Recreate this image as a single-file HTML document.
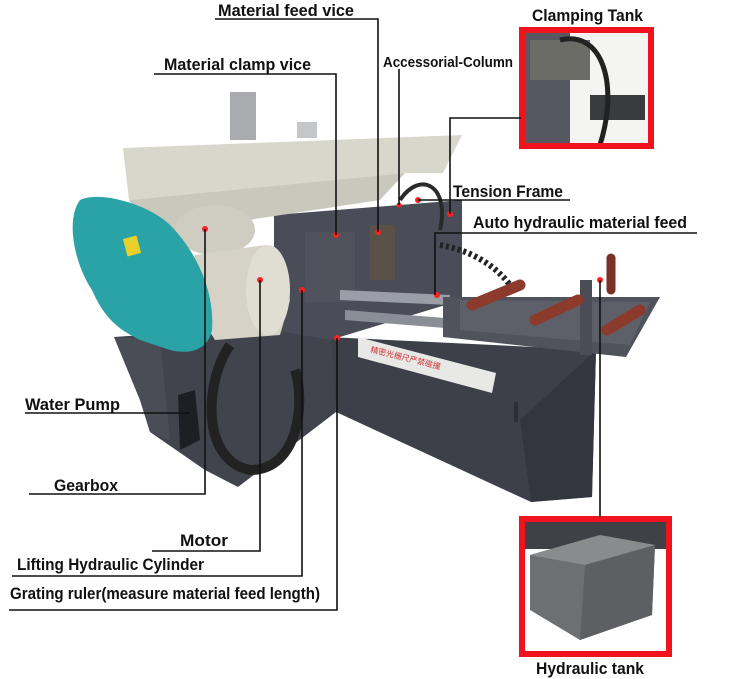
<!DOCTYPE html>
<html><head><meta charset="utf-8"><style>
html,body{margin:0;padding:0;background:#fff}
svg{display:block}
text{font-family:"Liberation Sans",sans-serif;font-weight:bold;fill:#111}
</style></head><body>
<svg width="750" height="679" viewBox="0 0 750 679" xmlns="http://www.w3.org/2000/svg">
<!-- right base -->
<polygon points="328,337 596,350 592,497 531,502 336,412" fill="#3d4049"/>
<polygon points="520,420 596,350 592,497 531,502" fill="#33363e"/>
<!-- left base -->
<polygon points="114,337 330,322 336,412 238,487 205,470 150,432 140,400" fill="#41444d"/>
<polygon points="114,337 160,340 170,440 150,432 140,400" fill="#4a4d56"/>
<polygon points="178,395 195,390 200,440 180,450" fill="#1e1f24"/>
<!-- hose coil -->
<path d="M230,345 C205,380 200,460 250,470 C300,470 305,400 295,370" stroke="#222" stroke-width="10" fill="none"/>
<!-- upper middle frame -->
<polygon points="274,215 462,200 462,300 330,340 274,330" fill="#4a4d57"/>
<rect x="305" y="232" width="50" height="70" fill="#50535c"/>
<rect x="370" y="225" width="25" height="55" fill="#5a5148"/>
<path d="M400,200 C420,170 450,185 440,230" stroke="#2a2a2a" stroke-width="4" fill="none"/>
<!-- rails -->
<polygon points="340,290 450,295 450,305 340,300" fill="#9a9ea6"/>
<polygon points="345,310 470,320 470,330 345,320" fill="#8a8e96"/>
<!-- sign strip -->
<polygon points="358,337 496,373 492,393 358,357" fill="#e8e8e6"/>
<text x="370" y="352" font-size="8" style="fill:#c33;font-weight:normal" transform="rotate(14 370 352)">精密光栅尺严禁碰撞</text>
<!-- right table -->
<polygon points="443,297 660,297 626,357 443,337" fill="#50535c"/>
<polygon points="460,300 650,302 630,345 460,330" fill="#5d6069"/>
<rect x="580" y="280" width="12" height="75" fill="#4a4d56"/>
<!-- cable chain -->
<path d="M440,245 C470,250 495,265 510,285" stroke="#222" stroke-width="6" fill="none" stroke-dasharray="3 3"/>
<!-- rollers -->
<line x1="472" y1="305" x2="520" y2="285" stroke="#8c3a2c" stroke-width="11" stroke-linecap="round"/>
<line x1="535" y1="320" x2="578" y2="300" stroke="#8c3a2c" stroke-width="11" stroke-linecap="round"/>
<line x1="607" y1="330" x2="640" y2="310" stroke="#8c3a2c" stroke-width="11" stroke-linecap="round"/>
<line x1="611" y1="258" x2="611" y2="290" stroke="#7a3024" stroke-width="9" stroke-linecap="round"/>
<!-- beige arm -->
<polygon points="123,148 462,135 443,173 405,173 129,200" fill="#d8d7cc"/>
<polygon points="129,200 405,173 380,200 150,235" fill="#c9c8bd"/>
<rect x="230" y="92" width="26" height="48" fill="#a9abae"/>
<rect x="297" y="122" width="20" height="16" fill="#c5c6c8"/>
<!-- gearbox area -->
<ellipse cx="215" cy="230" rx="40" ry="25" fill="#cfcdc2"/>
<!-- motor -->
<polygon points="195,255 265,245 290,300 280,335 215,340 190,300" fill="#d6d3c6"/>
<ellipse cx="268" cy="290" rx="22" ry="45" fill="#e0ddd2"/>
<!-- teal guard -->
<path d="M80,200 C100,190 150,205 170,225 C195,250 215,290 212,330 C208,350 190,355 170,350 L140,340 C120,330 105,320 92,290 C75,265 65,220 80,200 Z" fill="#2aa3a6"/>
<rect x="125" y="237" width="14" height="18" fill="#e8d12c" transform="rotate(-15 132 246)"/>
<path d="M516,402 l0,20" stroke="#2c2e34" stroke-width="4"/>

<!-- red dots -->
<g fill="#ff2020">
<circle cx="205" cy="229" r="3"/><circle cx="260" cy="280" r="3"/><circle cx="302" cy="290" r="3"/>
<circle cx="336" cy="235" r="3"/><circle cx="378" cy="232" r="3"/><circle cx="399" cy="205" r="2.5"/>
<circle cx="418" cy="200" r="3"/><circle cx="450" cy="214" r="3"/><circle cx="437" cy="295" r="3"/>
<circle cx="600" cy="280" r="3"/><circle cx="337" cy="338" r="3"/>
</g>

<!-- Clamping tank inset -->
<rect x="522" y="30" width="129" height="116" fill="#f4f4f2"/>
<rect x="525" y="33" width="45" height="110" fill="#55585e"/>
<rect x="530" y="40" width="60" height="40" fill="#6b6c66"/>
<rect x="590" y="95" width="55" height="25" fill="#3a3b3e"/>
<path d="M560,40 C600,30 620,80 600,145" stroke="#222" stroke-width="5" fill="none"/>
<rect x="522" y="30" width="129" height="116" fill="none" stroke="#f0121c" stroke-width="6"/>
<!-- Hydraulic tank inset -->
<rect x="522" y="519" width="147" height="135" fill="#fff"/>
<rect x="522" y="519" width="147" height="30" fill="#3f4146"/>
<polygon points="530,555 600,535 655,545 652,615 580,640 530,610" fill="#6e6f71"/>
<polygon points="530,555 600,535 655,545 585,565" fill="#8a8b8d"/>
<polygon points="585,565 655,545 652,615 580,640" fill="#5e5f62"/>
<rect x="522" y="519" width="147" height="135" fill="none" stroke="#f0121c" stroke-width="6"/>

<!-- leader lines -->
<g stroke="#111" stroke-width="1.6" fill="none">
<polyline points="215,19 378,19 378,232"/>
<polyline points="154,74 336,74 336,235"/>
<polyline points="399,69 399,205"/>
<polyline points="521,118 450,118 450,214"/>
<polyline points="418,200 570,200"/>
<polyline points="697,233 435,233 435,295"/>
<polyline points="25,413 190,413"/>
<polyline points="29,494 205,494 205,229"/>
<polyline points="152,551 260,551 260,280"/>
<polyline points="12,576 302,576 302,290"/>
<polyline points="9,610 337,610 337,338"/>
<polyline points="600,280 600,517"/>
</g>

<!-- labels -->
<text x="218" y="16" font-size="17" textLength="136" lengthAdjust="spacingAndGlyphs">Material feed vice</text>
<text x="164" y="70" font-size="17" textLength="147" lengthAdjust="spacingAndGlyphs">Material clamp vice</text>
<text x="383" y="67" font-size="15" textLength="130" lengthAdjust="spacingAndGlyphs">Accessorial-Column</text>
<text x="532" y="21" font-size="17" textLength="111" lengthAdjust="spacingAndGlyphs">Clamping Tank</text>
<text x="453" y="197" font-size="17" textLength="110" lengthAdjust="spacingAndGlyphs">Tension Frame</text>
<text x="473" y="228" font-size="17" textLength="214" lengthAdjust="spacingAndGlyphs">Auto hydraulic material feed</text>
<text x="25" y="410" font-size="17" textLength="95" lengthAdjust="spacingAndGlyphs">Water Pump</text>
<text x="54" y="491" font-size="17" textLength="64" lengthAdjust="spacingAndGlyphs">Gearbox</text>
<text x="180" y="546" font-size="17" textLength="48" lengthAdjust="spacingAndGlyphs">Motor</text>
<text x="17" y="570" font-size="17" textLength="187" lengthAdjust="spacingAndGlyphs">Lifting Hydraulic Cylinder</text>
<text x="10" y="599" font-size="17" textLength="310" lengthAdjust="spacingAndGlyphs">Grating ruler(measure material feed length)</text>
<text x="536" y="674" font-size="17" textLength="108" lengthAdjust="spacingAndGlyphs">Hydraulic tank</text>
</svg>
</body></html>
